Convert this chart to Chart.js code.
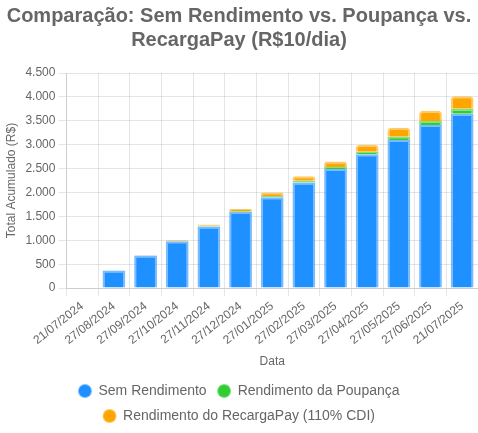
<!DOCTYPE html>
<html>
<head>
<meta charset="utf-8">
<script src="https://cdn.jsdelivr.net/npm/chart.js@4"></script>
<style>
  html, body { margin: 0; padding: 0; background: #fff; }
  #wrap { width: 478px; height: 433px; }
</style>
</head>
<body>
<div id="wrap"><canvas id="myChart"></canvas></div>
<script>
let datas = ["21/07/2024", "27/08/2024", "27/09/2024", "27/10/2024", "27/11/2024", "27/12/2024",
  "27/01/2025", "27/02/2025", "27/03/2025", "27/04/2025", "27/05/2025", "27/06/2025", "21/07/2025"];
let semRendimento = [0, 370, 680, 980, 1290, 1590, 1900, 2210, 2490, 2800, 3100, 3410, 3650];
let poupanca = [0, 1, 4, 7, 12, 20, 26, 34, 45, 55, 68, 85, 102];
let recargaPay = [0, 2, 7, 15, 28, 45, 74, 96, 115, 140, 186, 213, 260];

Chart.defaults.color = "#666";
Chart.defaults.font.family = "'Liberation Sans', Arial, sans-serif";

const data = {
  labels: datas,
  datasets: [
    {
      label: "Sem Rendimento",
      data: semRendimento,
      backgroundColor: "rgb(30, 144, 255)",
      borderColor: "rgba(30, 144, 255, 0.6)",
      borderWidth: 2,
      borderRadius: 4,
    },
    {
      label: "Rendimento da Poupança",
      data: poupanca,
      backgroundColor: "rgb(50, 205, 50)",
      borderColor: "rgba(50, 205, 50, 0.6)",
      borderWidth: 2,
      borderRadius: 4,
    },
    {
      label: "Rendimento do RecargaPay (110% CDI)",
      data: recargaPay,
      backgroundColor: "rgb(255, 165, 0)",
      borderColor: "rgba(255, 165, 0, 0.6)",
      borderWidth: 2,
      borderRadius: 4,
    },
  ],
};

const config = {
  type: "bar",
  data,
  options: {
    responsive: true,
    maintainAspectRatio: false,
    animation: false,
    locale: "pt-BR",
    plugins: {
      title: {
        display: true,
        text: ["Comparação: Sem Rendimento vs. Poupança vs.", "RecargaPay (R$10/dia)"],
        font: { size: 20, weight: "bold" },
        padding: { top: 4, bottom: 21 },
      },
      legend: {
        position: "bottom",
        labels: {
          usePointStyle: true,
          pointStyle: "circle",
          boxWidth: 13,
          boxHeight: 8.5,
          font: { size: 14 },
          padding: 11,
        },
      },
    },
    scales: {
      x: {
        stacked: true,
        title: { display: true, text: "Data", font: { size: 12 } },
        ticks: { font: { size: 12 } },
      },
      y: {
        stacked: true,
        beginAtZero: true,
        max: 4500,
        ticks: { stepSize: 500, font: { size: 12 } },
        title: { display: true, text: "Total Acumulado (R$)", font: { size: 12 } },
      },
    },
  },
};
var myChart = new Chart(document.getElementById("myChart"), config);
</script>
</body>
</html>
